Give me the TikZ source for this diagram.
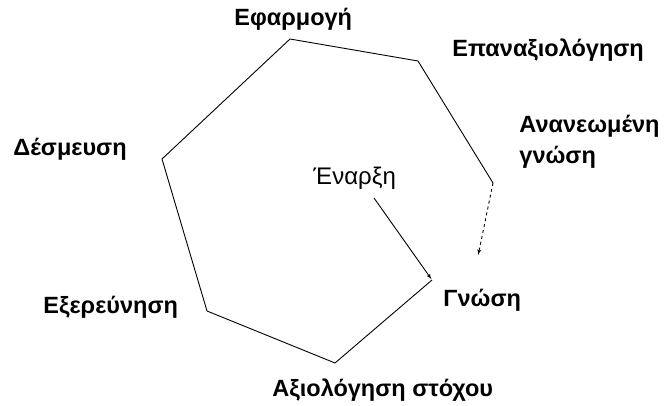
\documentclass[tikz,border=0pt]{standalone}
\usepackage{fontspec}
\setmainfont{Liberation Sans}
\usetikzlibrary{arrows,positioning}

\begin{document}
\begin{tikzpicture}[x=1pt, y=-1pt, >=latex', line width=0.9pt,
    stage/.style={anchor=base west, inner sep=0pt, font=\bfseries\fontsize{23.5}{31}\selectfont},
    start/.style={anchor=base west, inner sep=0pt, font=\fontsize{24}{31}\selectfont},
    line/.style={draw, ->, shorten >=1pt}]
    \useasboundingbox (0,0) rectangle (664,406);

    % corners of the path
    \coordinate (knowc) at (432,280);
    \coordinate (goalc) at (335,363);
    \coordinate (explc) at (207,311);
    \coordinate (commc) at (162,159);
    \coordinate (applc) at (290,39);
    \coordinate (reevc) at (418,61);
    \coordinate (newc)  at (493,183);
    \coordinate (newend) at (478,256);
    \coordinate (startc) at (374,198);

    \node [stage] (appl) at (234,26) {Εφαρμογή};
    \node [stage] (reev) at (452,57) {Επαναξιολόγηση};
    \node [stage, align=left] (newk) at (519,164) {Ανανεωμένη\\γνώση};
    \node [stage] (comm) at (13,156) {Δέσμευση};
    \node [start] (begin) at (313,185) {Έναρξη};
    \node [stage] (know) at (443,306) {Γνώση};
    \node [stage] (expl) at (43,313) {Εξερεύνηση};
    \node [stage] (goal) at (272,396) {Αξιολόγηση στόχου};

    \draw (knowc) -- (goalc) -- (explc) -- (commc) -- (applc) -- (reevc) -- (newc);
    \path [line] (startc) -- (knowc);
    \path [line, dashed] (newc) -- (newend);
\end{tikzpicture}
\end{document}
